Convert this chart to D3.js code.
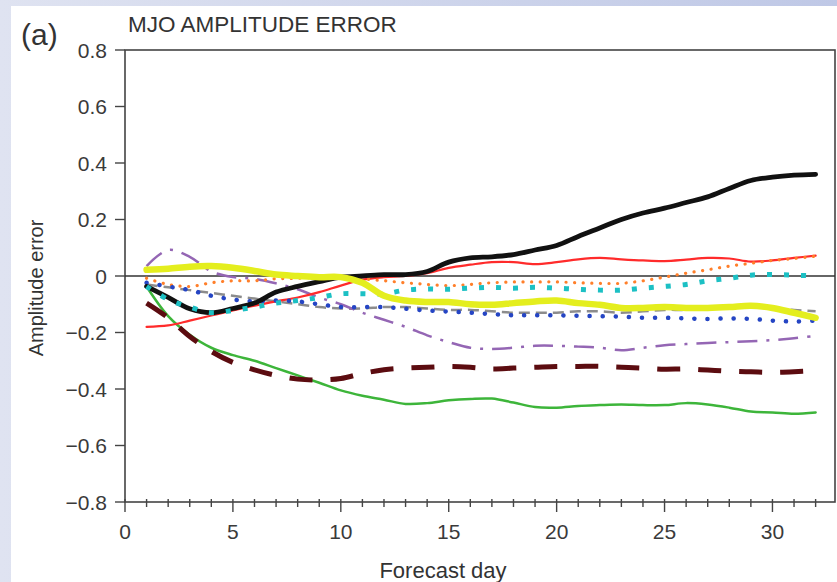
<!DOCTYPE html>
<html><head><meta charset="utf-8">
<script src="https://cdn.jsdelivr.net/npm/d3@7"></script>
<style>body{margin:0;background:#fff}svg{display:block}text{font-family:"Liberation Sans",Arial,Helvetica,sans-serif}</style>
</head><body><svg id="c" width="837" height="582"></svg>
<script>
const days = d3.range(1, 33);
const xTicks = [0,5,10,15,20,25,30];
const yTicks = [0.8,0.6,0.4,0.2,0,-0.2,-0.4,-0.6,-0.8];
const yTickLabels = ["0.8","0.6","0.4","0.2","0","\u22120.2","\u22120.4","\u22120.6","\u22120.8"];

const black  = [-0.037,-0.076,-0.116,-0.13,-0.115,-0.096,-0.057,-0.037,-0.02,-0.004,0,0.005,0.005,0.016,0.049,0.064,0.068,0.076,0.092,0.108,0.14,0.17,0.2,0.223,0.24,0.26,0.28,0.31,0.338,0.35,0.357,0.36];
const red    = [-0.18,-0.175,-0.158,-0.14,-0.122,-0.105,-0.09,-0.076,-0.057,-0.034,-0.013,-0.004,0,0.01,0.029,0.04,0.049,0.049,0.042,0.049,0.059,0.064,0.059,0.055,0.053,0.058,0.064,0.062,0.051,0.055,0.064,0.072];
const orange = [-0.008,-0.03,-0.037,-0.024,-0.017,-0.017,-0.01,-0.008,-0.004,-0.004,-0.01,-0.017,-0.024,-0.03,-0.034,-0.03,-0.024,-0.021,-0.021,-0.021,-0.024,-0.026,-0.026,-0.017,-0.004,0.01,0.022,0.035,0.045,0.055,0.062,0.07];
const cyan   = [-0.037,-0.083,-0.11,-0.13,-0.122,-0.11,-0.096,-0.087,-0.076,-0.063,-0.063,-0.063,-0.05,-0.046,-0.047,-0.043,-0.04,-0.043,-0.04,-0.043,-0.047,-0.05,-0.05,-0.043,-0.037,-0.03,-0.017,-0.008,0.003,0.005,0.003,0];
const yellow = [0.022,0.026,0.033,0.035,0.029,0.018,0.005,0,-0.004,-0.004,-0.024,-0.07,-0.087,-0.092,-0.092,-0.1,-0.102,-0.096,-0.09,-0.087,-0.096,-0.102,-0.113,-0.113,-0.11,-0.113,-0.113,-0.11,-0.105,-0.113,-0.13,-0.148];
const blue   = [-0.024,-0.037,-0.05,-0.07,-0.083,-0.09,-0.087,-0.09,-0.1,-0.11,-0.11,-0.11,-0.116,-0.122,-0.126,-0.13,-0.135,-0.139,-0.139,-0.139,-0.141,-0.142,-0.144,-0.148,-0.148,-0.15,-0.152,-0.15,-0.152,-0.158,-0.161,-0.158];
const gray   = [-0.03,-0.04,-0.05,-0.06,-0.07,-0.08,-0.09,-0.1,-0.11,-0.115,-0.115,-0.11,-0.11,-0.115,-0.12,-0.12,-0.125,-0.13,-0.13,-0.13,-0.125,-0.125,-0.13,-0.125,-0.12,-0.12,-0.115,-0.115,-0.11,-0.115,-0.12,-0.125];
const purple = [0.035,0.092,0.068,0.016,-0.004,-0.01,-0.026,-0.047,-0.076,-0.1,-0.13,-0.155,-0.18,-0.21,-0.234,-0.254,-0.258,-0.254,-0.247,-0.247,-0.25,-0.254,-0.263,-0.254,-0.245,-0.241,-0.237,-0.234,-0.231,-0.227,-0.22,-0.212];
const darkred= [-0.096,-0.148,-0.214,-0.267,-0.306,-0.332,-0.352,-0.365,-0.368,-0.363,-0.345,-0.332,-0.326,-0.323,-0.32,-0.323,-0.329,-0.326,-0.323,-0.32,-0.32,-0.32,-0.323,-0.326,-0.33,-0.329,-0.333,-0.337,-0.339,-0.341,-0.339,-0.335];
const green  = [-0.037,-0.142,-0.208,-0.254,-0.28,-0.3,-0.326,-0.352,-0.378,-0.405,-0.424,-0.438,-0.453,-0.45,-0.44,-0.435,-0.434,-0.448,-0.464,-0.466,-0.46,-0.457,-0.455,-0.457,-0.457,-0.45,-0.455,-0.466,-0.48,-0.483,-0.488,-0.483];

const series = [
  {v: gray,    color:"#8c8c8c", w:2.5, dash:"11,6",      cap:"butt"},
  {v: purple,  color:"#9466b4", w:2.5, dash:"20,9,3,9",  cap:"butt"},
  {v: green,   color:"#3db53a", w:2.5, dash:null,        cap:"round"},
  {v: darkred, color:"#5c0c10", w:5,   dash:"23,18",     cap:"butt"},
  {v: red,     color:"#ff2b2b", w:2.2, dash:null,        cap:"round"},
  {v: orange,  color:"#ff7f2a", w:3.2, dash:"0.1,8.5",   cap:"round"},
  {v: blue,    color:"#2545c4", w:4.5, dash:"0.1,13",    cap:"round"},
  {v: black,   color:"#111111", w:4.8, dash:null,        cap:"round"},
  {v: cyan,    color:"#1cc0c4", w:5,   dash:"5,12",      cap:"butt"},
  {v: yellow,  color:"#e4ee1e", w:6.5, dash:null,        cap:"round"}
];

const svg = d3.select("#c");
const defs = svg.append("defs");
const g1 = defs.append("linearGradient").attr("id","bg").attr("x1","0").attr("x2","1").attr("y1","0").attr("y2","0");
g1.append("stop").attr("offset","0").attr("stop-color","#dfe3f1");
g1.append("stop").attr("offset","1").attr("stop-color","#bfc8e6");
svg.append("rect").attr("width",837).attr("height",582).attr("fill","url(#bg)");
svg.append("rect").attr("x",11).attr("y",6).attr("width",826).attr("height",576).attr("fill","#ffffff");

const x = d3.scaleLinear().domain([0,33]).range([125,837.2]);
const y = d3.scaleLinear().domain([-0.8,0.8]).range([502,50]);
const pL = 125, pR = 835, pT = y(0.8), pB = y(-0.8);

// frame
svg.append("rect").attr("x",pL).attr("y",pT).attr("width",pR-pL).attr("height",pB-pT)
  .attr("fill","none").attr("stroke","#444").attr("stroke-width",1.6);

// zero line
svg.append("line").attr("x1",pL).attr("x2",pR).attr("y1",y(0)).attr("y2",y(0))
  .attr("stroke","#333").attr("stroke-width",1.6);

// y axis ticks
yTicks.forEach((t,i)=>{
  svg.append("line").attr("x1",pL-10).attr("x2",pL).attr("y1",y(t)).attr("y2",y(t)).attr("stroke","#444").attr("stroke-width",1.4);
  svg.append("text").attr("x",pL-18).attr("y",y(t)+7.5).attr("text-anchor","end")
    .attr("font-size",21).attr("fill","#3a3a3a").text(yTickLabels[i]);
});
// x axis ticks
d3.range(0,33).forEach(d=>{
  const major = d%5===0;
  svg.append("line").attr("x1",x(d)).attr("x2",x(d)).attr("y1",pB-3).attr("y2",pB+(major?10:5))
    .attr("stroke","#444").attr("stroke-width",1.4);
});
xTicks.forEach(t=>{
  svg.append("text").attr("x",x(t)).attr("y",539).attr("text-anchor","middle")
    .attr("font-size",21).attr("fill","#3a3a3a").text(t);
});

// lines
const line = d3.line().x((d,i)=>x(days[i])).y(d=>y(d)).curve(d3.curveCatmullRom);
series.forEach(s=>{
  svg.append("path").datum(s.v).attr("d",line).attr("fill","none")
    .attr("stroke",s.color).attr("stroke-width",s.w)
    .attr("stroke-dasharray",s.dash).attr("stroke-linecap",s.cap).attr("stroke-linejoin","round");
});

// texts
svg.append("text").attr("x",21).attr("y",45).attr("font-size",30).attr("fill","#333").text("(a)");
svg.append("text").attr("x",128).attr("y",32).attr("font-size",22.5).attr("fill","#333").text("MJO AMPLITUDE ERROR");
svg.append("text").attr("transform","translate(43,288) rotate(-90)").attr("text-anchor","middle")
  .attr("font-size",20).attr("fill","#333").text("Amplitude error");
svg.append("text").attr("x",443).attr("y",578).attr("text-anchor","middle")
  .attr("font-size",22).attr("fill","#333").text("Forecast day");
</script></body></html>
